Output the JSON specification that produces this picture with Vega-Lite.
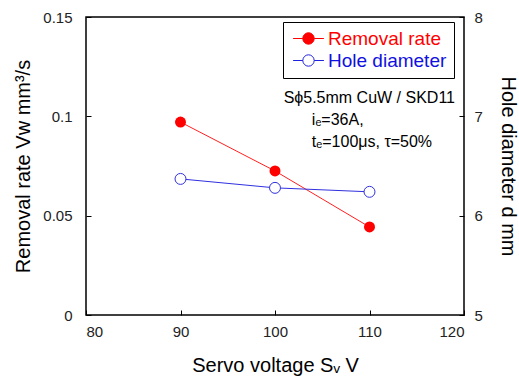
{
  "$schema": "https://vega.github.io/schema/vega-lite/v6.json",
  "width": 378,
  "height": 298,
  "autosize": {"type": "none"},
  "padding": {"left": 86, "top": 17, "right": 55, "bottom": 63},
  "background": "white",
  "config": {
    "font": "Liberation Sans",
    "view": {"stroke": "black", "strokeWidth": 1.5},
    "axis": {"domain": false, "grid": false, "tickColor": "black", "tickSize": -5, "labelFontSize": 15, "labelColor": "#222", "titleFontSize": 20, "titleFontWeight": "normal", "titleColor": "black"}
  },
  "data": {
    "values": [
      {"voltage": 90, "series": "Removal rate", "value": 0.0971},
      {"voltage": 100, "series": "Removal rate", "value": 0.0725},
      {"voltage": 110, "series": "Removal rate", "value": 0.0443},
      {"voltage": 90, "series": "Hole diameter", "value": 6.37},
      {"voltage": 100, "series": "Hole diameter", "value": 6.28},
      {"voltage": 110, "series": "Hole diameter", "value": 6.24}
    ]
  },
  "layer": [
    {
      "transform": [{"filter": "datum.series === 'Removal rate'"}],
      "encoding": {
        "x": {"field": "voltage", "type": "quantitative", "scale": {"domain": [80, 120], "nice": false, "zero": false}, "axis": {"values": [80, 90, 100, 110, 120], "title": "Servo voltage Sᵥ V", "labelPadding": 14, "titlePadding": 16}},
        "y": {"field": "value", "type": "quantitative", "scale": {"domain": [0, 0.15], "nice": false}, "axis": {"orient": "left", "values": [0, 0.05, 0.1, 0.15], "format": ".2~f", "title": "Removal rate Vw mm³/s", "labelPadding": 19, "titlePadding": 9}}
      },
      "layer": [
        {"mark": {"type": "line", "color": "#ff2020", "strokeWidth": 1}},
        {"mark": {"type": "point", "filled": true, "fill": "#ff0000", "size": 120, "opacity": 1}},
        {
          "mark": {"type": "point", "filled": true, "opacity": 0, "fill": {"expr": "datum.value === 'Removal rate' ? '#ff0000' : 'white'"}},
          "encoding": {
            "stroke": {
              "field": "series", "type": "nominal",
              "scale": {"domain": ["Removal rate", "Hole diameter"], "range": ["#ff0000", "#2020e0"]},
              "legend": {
                "title": null, "orient": "none", "legendX": 197, "legendY": 5,
                "strokeColor": "black", "fillColor": "white", "padding": 7,
                "symbolType": "M -2.7 0 L -1 0 M 1 0 L 2.7 0 M 1 0 C 1 0.552 0.552 1 0 1 C -0.552 1 -1 0.552 -1 0 C -1 -0.552 -0.552 -1 0 -1 C 0.552 -1 1 -0.552 1 0 Z",
                "symbolSize": 130, "symbolOffset": 9, "symbolOpacity": 1, "symbolStrokeWidth": 1,
                "symbolFillColor": {"expr": "datum.value === 'Removal rate' ? '#ff0000' : 'white'"},
                "labelColor": {"expr": "datum.value === 'Removal rate' ? '#ff0000' : '#1010e0'"},
                "labelFontSize": 19, "labelOffset": 10, "rowPadding": 2
              }
            }
          }
        },
        {
          "transform": [{"filter": "datum.voltage === 90"}],
          "mark": {"type": "text", "align": "right", "baseline": "middle", "fontSize": 16, "fill": "black"},
          "encoding": {"x": {"datum": 119.05}, "y": {"datum": 0.1092}, "text": {"value": "Sϕ5.5mm CuW / SKD11"}}
        },
        {
          "transform": [{"filter": "datum.voltage === 90"}],
          "mark": {"type": "text", "align": "left", "baseline": "middle", "fontSize": 16, "fill": "black"},
          "encoding": {"x": {"datum": 103.9}, "y": {"datum": 0.0982}, "text": {"value": "iₑ=36A,"}}
        },
        {
          "transform": [{"filter": "datum.voltage === 90"}],
          "mark": {"type": "text", "align": "left", "baseline": "middle", "fontSize": 16, "fill": "black"},
          "encoding": {"x": {"datum": 103.9}, "y": {"datum": 0.0871}, "text": {"value": "tₑ=100μs,  τ=50%"}}
        }
      ]
    },
    {
      "transform": [{"filter": "datum.series === 'Hole diameter'"}],
      "encoding": {
        "x": {"field": "voltage", "type": "quantitative"},
        "y": {"field": "value", "type": "quantitative", "scale": {"domain": [5, 8], "nice": false, "zero": false}, "axis": {"orient": "right", "values": [5, 6, 7, 8], "title": "Hole diameter d mm", "labelPadding": 15, "titlePadding": 15}}
      },
      "layer": [
        {"mark": {"type": "line", "color": "#3030e0", "strokeWidth": 1}},
        {"mark": {"type": "point", "shape": "circle", "filled": true, "fill": "white", "stroke": "#3030e0", "strokeWidth": 1, "size": 120, "opacity": 1}}
      ]
    }
  ],
  "resolve": {"scale": {"y": "independent"}}
}
